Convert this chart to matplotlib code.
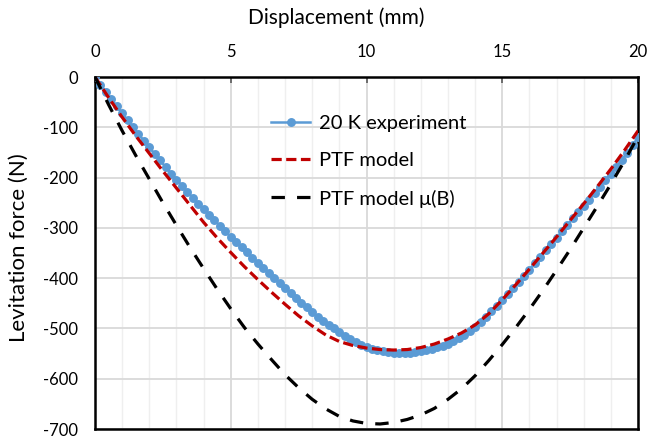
import matplotlib
matplotlib.use("Agg")
import matplotlib.pyplot as plt
from matplotlib.ticker import MultipleLocator

plt.rcParams['font.family'] = ['Lato', 'DejaVu Sans']
plt.rcParams['axes.unicode_minus'] = False

# 20 K experiment, sampled every 0.2 mm
exp_x = [0.0, 0.2, 0.4, 0.6, 0.8, 1.0, 1.2, 1.4, 1.6, 1.8,
         2.0, 2.2, 2.4, 2.6, 2.8, 3.0, 3.2, 3.4, 3.6, 3.8,
         4.0, 4.2, 4.4, 4.6, 4.8, 5.0, 5.2, 5.4, 5.6, 5.8,
         6.0, 6.2, 6.4, 6.6, 6.8, 7.0, 7.2, 7.4, 7.6, 7.8,
         8.0, 8.2, 8.4, 8.6, 8.8, 9.0, 9.2, 9.4, 9.6, 9.8,
         10.0, 10.2, 10.4, 10.6, 10.8, 11.0, 11.2, 11.4, 11.6, 11.8,
         12.0, 12.2, 12.4, 12.6, 12.8, 13.0, 13.2, 13.4, 13.6, 13.8,
         14.0, 14.2, 14.4, 14.6, 14.8, 15.0, 15.2, 15.4, 15.6, 15.8,
         16.0, 16.2, 16.4, 16.6, 16.8, 17.0, 17.2, 17.4, 17.6, 17.8,
         18.0, 18.2, 18.4, 18.6, 18.8, 19.0, 19.2, 19.4, 19.6, 19.8,
         20.0]
exp_f = [0, -15, -30, -44, -58, -72, -86, -100, -113, -127,
         -140, -153, -166, -179, -192, -204, -216, -228, -240, -252,
         -263, -274, -285, -296, -307, -318, -328, -339, -349, -359,
         -369, -379, -389, -399, -409, -419, -429, -439, -449, -458,
         -468, -477, -485, -493, -500, -508, -515, -521, -527, -532,
         -536, -540, -543, -545, -547, -548, -549, -549, -548, -547,
         -545, -543, -540, -537, -534, -530, -525, -520, -514, -506,
         -497, -487, -477, -466, -455, -443, -431, -419, -407, -395,
         -383, -370, -358, -345, -332, -320, -307, -294, -281, -269,
         -256, -244, -231, -218, -205, -192, -179, -165, -151, -136,
         -120]

# model curves, every 0.5 mm
model_x = [0.0, 0.5, 1.0, 1.5, 2.0, 2.5, 3.0, 3.5, 4.0, 4.5,
           5.0, 5.5, 6.0, 6.5, 7.0, 7.5, 8.0, 8.5, 9.0, 9.5,
           10.0, 10.5, 11.0, 11.5, 12.0, 12.5, 13.0, 13.5, 14.0, 14.5,
           15.0, 15.5, 16.0, 16.5, 17.0, 17.5, 18.0, 18.5, 19.0, 19.5,
           20.0]
ptf_f = [0, -41, -80, -117, -152, -187, -221, -255, -289, -320,
         -349, -377, -403, -428, -452, -475, -495, -513, -526, -534,
         -539, -542, -543, -542, -538, -531, -521, -509, -493, -471,
         -443, -413, -382, -350, -318, -285, -252, -218, -183, -146,
         -107]
ptf_mu_f = [0, -55, -107, -156, -203, -250, -295, -339, -381, -422,
            -461, -498, -531, -562, -592, -618, -641, -660, -675, -684,
            -689, -690, -687, -681, -672, -659, -641, -620, -594, -564,
            -532, -498, -462, -424, -384, -343, -300, -257, -213, -167,
            -118]

fig = plt.figure(figsize=(6.49, 4.40), dpi=100)
ax = fig.add_axes([0.1464, 0.025, 0.8367, 0.80])

ax.plot(exp_x, exp_f, color="#5b9bd5", lw=1.8, marker="o", ms=5.4,
        label="20 K experiment", zorder=3)
ax.plot(model_x, ptf_f, color="#c00000", lw=2.3, dashes=(3.2, 1.4),
        label="PTF model", zorder=4)
ax.plot(model_x, ptf_mu_f, color="black", lw=2.3, dashes=(4.2, 3.8),
        label="PTF model \u03bc(B)", zorder=4)

ax.set_xlim(0, 20)
ax.set_ylim(-700, 0)
ax.xaxis.set_major_locator(MultipleLocator(5))
ax.xaxis.set_minor_locator(MultipleLocator(1))
ax.yaxis.set_major_locator(MultipleLocator(100))
ax.xaxis.tick_top()
ax.xaxis.set_label_position("top")

ax.grid(which="major", axis="both", color="#d9d9d9", lw=1.3)
ax.grid(which="minor", axis="x", color="#efefef", lw=1.0)
ax.set_axisbelow(True)

ax.tick_params(axis="x", which="major", direction="in", length=4, width=1.2,
               color="#595959", labelsize=12, pad=12)
ax.tick_params(axis="x", which="minor", length=0)
ax.tick_params(axis="y", length=0, labelsize=12, pad=12)
for sp in ax.spines.values():
    sp.set_linewidth(1.8)
    sp.set_color("black")

ax.set_xlabel("Displacement (mm)", fontsize=15, va="center", ha="center")
ax.xaxis.set_label_coords(0.444, 1.168)
ax.set_ylabel("Levitation force (N)", fontsize=16, va="center", ha="center")
ax.yaxis.set_label_coords(-0.141, 0.515)

ax.legend(loc="upper left", bbox_to_anchor=(0.31, 0.915), frameon=False,
          fontsize=14.5, handlelength=1.9, handletextpad=0.45,
          labelspacing=1.0, numpoints=1, borderaxespad=0)

plt.savefig("out.png", dpi=100)
